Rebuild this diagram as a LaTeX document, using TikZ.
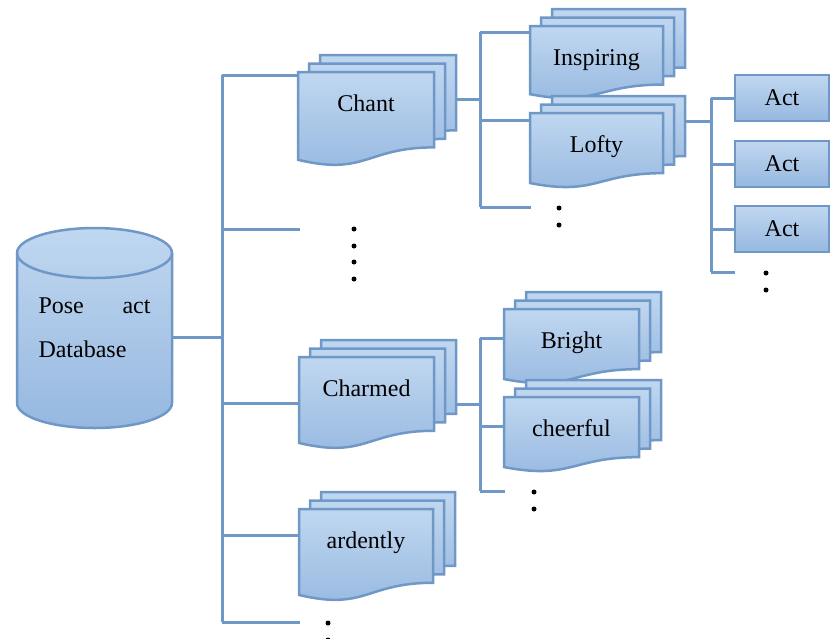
\documentclass[tikz,border=0pt]{standalone}
\usepackage{fontspec}
\setmainfont{Liberation Serif}
\usetikzlibrary{calc}

\definecolor{edgeblue}{RGB}{112,152,199}
\definecolor{sheettop}{RGB}{192,215,240}
\definecolor{sheetbot}{RGB}{150,184,224}

\newcommand\boxfont{\fontsize{24}{28}\selectfont}

\tikzset{
  link/.style={draw=edgeblue, line width=3pt},
  edge/.style={draw=edgeblue, line width=2.5pt},
  sheet/.style={edge, top color=sheettop, bottom color=sheetbot},
  doclabel/.style={font=\boxfont, anchor=base, inner sep=0pt},
  actbox/.style={sheet, rectangle, minimum width=94pt, minimum height=46pt, inner sep=0pt, font=\boxfont},
  dbtext/.style={font=\fontsize{24}{44}\selectfont, text width=112pt, align=left,
    minimum width=155pt, minimum height=200pt}
}

% three stacked pages: name, top left of front page, width, height, label
\newcommand\docstack[5]{%
  \foreach \k in {2,1,0}
    \path[sheet, shift={(#2)}, shift={(11*\k,-8.5*\k)}]
      (0,0) -- (#3,0) -- (#3,0.802*#4)
      .. controls (0.5*#3,0.802*#4) and (0.5*#3,1.1075*#4) .. (0,0.934*#4) -- cycle;
  \coordinate (#1-w) at (#2);
  \coordinate (#1-e) at ($(#2)+(#3+22,0)$);
  \node[doclabel] (#1) at ($(#2)+(0.5*#3,39)$) {#5};
}

\begin{document}
\begin{tikzpicture}[x=1pt, y=-1pt]
\useasboundingbox (0,0) rectangle (830,638);

% database
\path[sheet] (17,253) -- (17,403)
  arc[start angle=180, end angle=0, x radius=77.5, y radius=25] -- (172,253)
  arc[start angle=0, end angle=-180, x radius=77.5, y radius=25] -- cycle;
\draw[edge] (17,253) arc[start angle=180, end angle=0, x radius=77.5, y radius=25];
\node[dbtext] (db) at (94.5,328) {Pose\hspace{\fill}act\\Database};

% documents
\docstack{chant}{298,72}{136}{94}{Chant}
\docstack{charmed}{299,357}{135}{92}{Charmed}
\docstack{ardently}{299,509}{134}{92}{ardently}
\docstack{inspiring}{530,26}{133}{73}{Inspiring}
\docstack{lofty}{530,113}{133}{75}{Lofty}
\docstack{bright}{504,309}{135}{75}{Bright}
\docstack{cheerful}{504,397}{135}{75}{cheerful}

\node[actbox] (act1) at (782,98) {Act};
\node[actbox] (act2) at (782,164) {Act};
\node[actbox] (act3) at (782,229) {Act};

% first trunk
\coordinate (a1) at (222,75);
\coordinate (a2) at (222,229);
\coordinate (a3) at (222,337);
\coordinate (a4) at (222,403);
\coordinate (a5) at (222,535);
\coordinate (a6) at (222,622);
\coordinate (more1) at (300,229);
\coordinate (more2) at (300,622);
\draw[link] (a1) -- (a6);
\draw[link] (db.east |- a3) -- (a3);
\draw[link] (a1) -- (a1 -| chant-w);
\draw[link] (a2) -- (more1);
\draw[link] (a4) -- (a4 -| charmed-w);
\draw[link] (a5) -- (a5 -| ardently-w);
\draw[link] (a6) -- (more2);

% under Chant
\coordinate (b1) at (480,32);
\coordinate (b2) at (480,99);
\coordinate (b3) at (480,120);
\coordinate (b4) at (480,207);
\coordinate (more3) at (531,207);
\draw[link] (b1) -- (b4);
\draw[link] (chant-e |- b2) -- (b2);
\draw[link] (b1) -- (b1 -| inspiring-w);
\draw[link] (b3) -- (b3 -| lofty-w);
\draw[link] (b4) -- (more3);

% under Lofty
\coordinate (c1) at (711,98);
\coordinate (c2) at (711,121);
\coordinate (c3) at (711,272);
\coordinate (more4) at (735,272);
\draw[link] (c1) -- (c3);
\draw[link] (lofty-e |- c2) -- (c2);
\draw[link] (act1.west -| c1) -- (act1.west);
\draw[link] (act2.west -| c1) -- (act2.west);
\draw[link] (act3.west -| c1) -- (act3.west);
\draw[link] (c3) -- (more4);

% under Charmed
\coordinate (d1) at (480,338);
\coordinate (d2) at (480,404);
\coordinate (d3) at (480,426);
\coordinate (d4) at (480,491);
\coordinate (more5) at (505,491);
\draw[link] (d1) -- (d4);
\draw[link] (charmed-e |- d2) -- (d2);
\draw[link] (d1) -- (d1 -| bright-w);
\draw[link] (d3) -- (d3 -| cheerful-w);
\draw[link] (d4) -- (more5);

% dots
\foreach \y in {229,246,262,279} \fill (354,\y) circle (2.5);
\foreach \y in {208,225} \fill (559,\y) circle (2.5);
\foreach \y in {273,290} \fill (766,\y) circle (2.5);
\foreach \y in {492,509} \fill (534,\y) circle (2.5);
\foreach \y in {623,640} \fill (328,\y) circle (2.5);
\end{tikzpicture}
\end{document}
